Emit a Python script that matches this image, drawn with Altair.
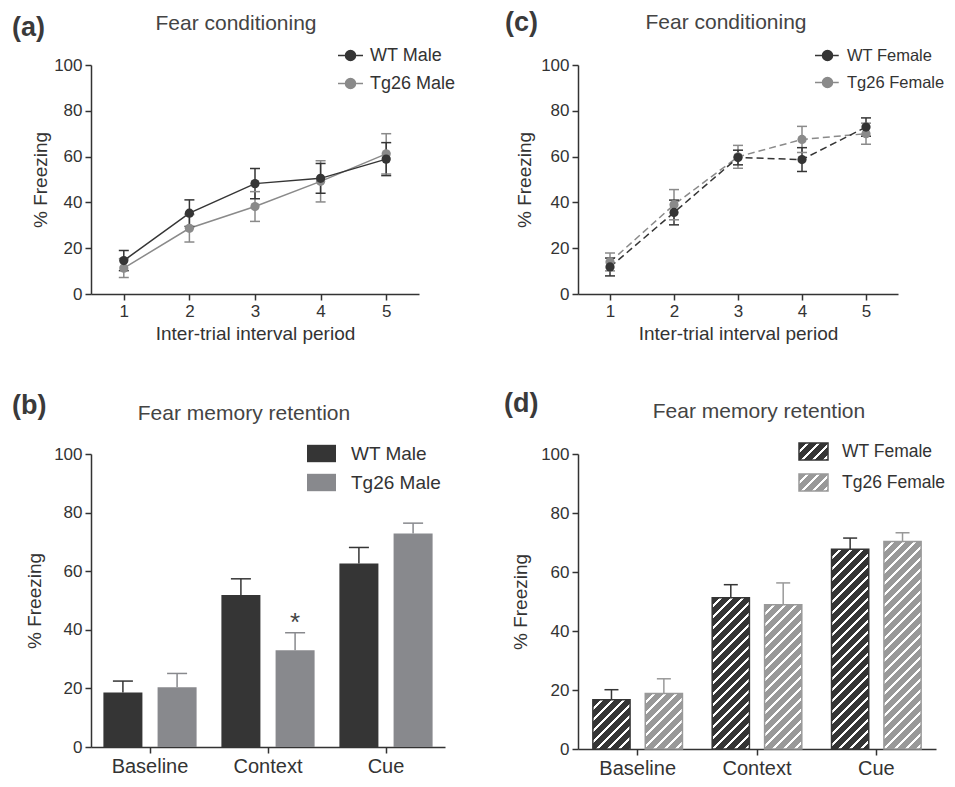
import altair as alt
import pandas as pd

FONT = "Liberation Sans"
TXT = "#333333"
TITLE_C = "#444444"
DARK = "#353535"
LINE_GRAY = "#8a8a8a"
BAR_GRAY = "#88898d"
HATCH_GRAY = "#999999"

# ---------------- data ----------------
periods = [1, 2, 3, 4, 5]
a_names = ["WT Male", "Tg26 Male"]
a_wt = [14.6, 35.3, 48.2, 50.5, 58.9]
a_wt_err = [4.4, 5.8, 6.6, 6.5, 7.2]
a_tg = [11.3, 28.7, 38.2, 49.2, 61.2]
a_tg_err = [4.1, 6.0, 6.5, 9.0, 8.8]

c_names = ["WT Female", "Tg26 Female"]
c_wt = [11.8, 35.6, 59.6, 58.7, 72.9]
c_wt_err = [3.9, 5.4, 3.2, 5.2, 4.0]
c_tg = [14.0, 39.0, 59.9, 67.5, 70.0]
c_tg_err = [3.9, 6.6, 5.0, 5.7, 4.6]

phases = ["Baseline", "Context", "Cue"]
b_names = ["WT Male", "Tg26 Male"]
b_wt = [18.6, 51.9, 62.6]
b_wt_err = [3.9, 5.5, 5.5]
b_tg = [20.4, 33.0, 72.9]
b_tg_err = [4.7, 6.0, 3.5]
b_tg_sig = ["", "*", ""]

d_names = ["WT Female", "Tg26 Female"]
d_wt = [16.7, 51.3, 67.7]
d_wt_err = [3.4, 4.4, 3.8]
d_tg = [18.8, 48.9, 70.3]
d_tg_err = [5.0, 7.4, 3.0]

y_ticks = [0, 20, 40, 60, 80, 100]

# ---------------- sizes ----------------
TOP_H = 229
A_W, C_W = 328, 320
B_W, B_H = 354, 293
D_W, D_H = 358, 295


def text_layer(s, x, y, size, weight="normal", color=TXT, align="left", baseline="alphabetic"):
    return alt.Chart(pd.DataFrame({"s": [s]})).mark_text(
        font=FONT, fontSize=size, fontWeight=weight, color=color, align=align, baseline=baseline
    ).encode(text="s:N", x=alt.value(x), y=alt.value(y))


def y_enc(field, title_pad):
    return alt.Y(field, type="quantitative", scale=alt.Scale(domain=[0, 100], nice=False),
                 axis=alt.Axis(values=y_ticks, title="% Freezing", titlePadding=title_pad))


# ---------------- line panels ----------------
def line_panel(names, wt, wt_err, tg, tg_err, dash, W, letter, letter_xy, title_xy,
               ypad, leg_xy, sym_path, leg_font):
    df = pd.DataFrame({
        "period": periods + periods,
        "series": [names[1]] * 5 + [names[0]] * 5,
        "value": tg + wt,
        "err": tg_err + wt_err,
    })
    df["lo"] = df["value"] - df["err"]
    df["hi"] = df["value"] + df["err"]
    sc = alt.Scale(domain=names, range=[DARK, LINE_GRAY])
    leg = alt.Legend(title=None, orient="none", legendX=leg_xy[0], legendY=leg_xy[1],
                     symbolType=sym_path, symbolSize=625, symbolStrokeWidth=1.5,
                     labelFont=FONT, labelFontSize=leg_font, labelColor=TXT, labelOffset=6,
                     rowPadding=5, padding=0)

    def x_enc(field):
        return alt.X(field, type="quantitative",
                     scale=alt.Scale(domain=[0.5, 5.5], nice=False, zero=False),
                     axis=alt.Axis(values=periods, format="d", title="Inter-trial interval period",
                                   titlePadding=5))

    base = alt.Chart(df)
    line_kw = {"strokeWidth": 1.5}
    if dash:
        line_kw["strokeDash"] = dash
    line = base.mark_line(**line_kw).encode(
        x=x_enc("period"), y=y_enc("value", ypad),
        stroke=alt.Stroke("series:N", scale=sc, legend=leg))
    rules = base.mark_rule(strokeWidth=1.5).encode(
        x=x_enc("period"), y=y_enc("lo", ypad), y2="hi:Q",
        stroke=alt.Stroke("series:N", scale=sc, legend=None))
    cap_lo = base.mark_tick(orient="horizontal", size=10, thickness=1.5, opacity=1).encode(
        x=x_enc("period"), y=y_enc("lo", ypad),
        fill=alt.Fill("series:N", scale=sc, legend=None))
    cap_hi = base.mark_tick(orient="horizontal", size=10, thickness=1.5, opacity=1).encode(
        x=x_enc("period"), y=y_enc("hi", ypad),
        fill=alt.Fill("series:N", scale=sc, legend=None))
    pts = base.mark_circle(size=85, opacity=1).encode(
        x=x_enc("period"), y=y_enc("value", ypad),
        fill=alt.Fill("series:N", scale=sc, legend=leg))
    lt = text_layer(letter, letter_xy[0], letter_xy[1], 27, weight="bold", color="#3a3a3a")
    tt = text_layer("Fear conditioning", title_xy[0], title_xy[1], 21, color=TITLE_C, align="center")
    return alt.layer(line, rules, cap_lo, cap_hi, pts, lt, tt).properties(width=W, height=TOP_H)


LINE_SYM = "M-1,0H1M0.4,0A0.4,0.4,0,1,1,-0.4,0A0.4,0.4,0,1,1,0.4,0Z"
DASH_SYM = "M-1,0H-0.45M0.45,0H0.9M0.4,0A0.4,0.4,0,1,1,-0.4,0A0.4,0.4,0,1,1,0.4,0Z"

pa = line_panel(a_names, a_wt, a_wt_err, a_tg, a_tg_err, None, A_W, "(a)", (-79, -29.5),
                (145, -35), 3, (246, -23), LINE_SYM, 18)
pc = line_panel(c_names, c_wt, c_wt_err, c_tg, c_tg_err, [7, 4], C_W, "(c)", (-73, -34),
                (148, -36), 6, (236, -23), DASH_SYM, 16.5)


# ---------------- bar panels ----------------
PI1, PO1 = 0.1, 0.05


def bar_df(names, wt, wt_err, tg, tg_err, sig=None):
    df = pd.DataFrame({
        "category": phases + phases,
        "series": [names[0]] * 3 + [names[1]] * 3,
        "value": wt + tg,
        "err": wt_err + tg_err,
    })
    df["hi"] = df["value"] + df["err"]
    df["sig"] = ["", "", ""] + (sig if sig else ["", "", ""])
    return df


def x_band():
    return alt.X("category:N", sort=phases,
                 scale=alt.Scale(domain=phases, paddingInner=PI1, paddingOuter=PO1),
                 axis=alt.Axis(title=None, labelAngle=0, labelFontSize=20, labelPadding=3))


def x_off(names, pi2, po2):
    return alt.XOffset("series:N", sort=names,
                       scale=alt.Scale(domain=names, paddingInner=pi2, paddingOuter=po2))


# (b) solid bars
dfb = bar_df(b_names, b_wt, b_wt_err, b_tg, b_tg_err, b_tg_sig)
scb = alt.Scale(domain=b_names, range=[DARK, BAR_GRAY])
leg_b = alt.Legend(title=None, orient="none", legendX=216, legendY=-15,
                   symbolType="M-1,-0.6H1V0.6H-1Z", symbolSize=841, symbolStrokeWidth=0,
                   labelFont=FONT, labelFontSize=19, labelColor=TXT, labelOffset=15,
                   rowPadding=4, padding=0)
bb = alt.Chart(dfb)
XO_B = (0.28, 0.12)
b_bars = bb.mark_bar().encode(
    x=x_band(), xOffset=x_off(b_names, *XO_B), y=y_enc("value", 9),
    color=alt.Color("series:N", scale=scb, legend=leg_b))
b_rules = bb.mark_rule(strokeWidth=1.5).encode(
    x=x_band(), xOffset=x_off(b_names, *XO_B), y=y_enc("value", 9), y2="hi:Q",
    color=alt.Color("series:N", scale=scb, legend=None))
b_caps = bb.mark_tick(orient="horizontal", size=20, thickness=1.5, opacity=1).encode(
    x=x_band(), xOffset=x_off(b_names, *XO_B), y=y_enc("hi", 9),
    color=alt.Color("series:N", scale=scb, legend=None))
b_sig = bb.mark_text(font=FONT, fontSize=26, color="#444444", baseline="alphabetic", dy=-2).encode(
    x=x_band(), xOffset=x_off(b_names, *XO_B), y=y_enc("hi", 9), text="sig:N")
pb = alt.layer(
    b_bars, b_rules, b_caps, b_sig,
    text_layer("(b)", -79, -40, 27, weight="bold", color="#3a3a3a"),
    text_layer("Fear memory retention", 153, -34, 21, color=TITLE_C, align="center"),
).properties(width=B_W, height=B_H)


# (d) hatched bars
def hatch(color, w, h, period=11.0, frac=0.3):
    total = w + h
    stops = [{"offset": 0, "color": color}]
    cur = color
    p = 0.0
    done = False
    while not done:
        for e, newc in ((p + period * (1 - frac), "#ffffff"), (p + period, color)):
            if e >= total:
                done = True
                break
            stops.append({"offset": e / total, "color": cur})
            stops.append({"offset": e / total, "color": newc})
            cur = newc
        p += period
    stops.append({"offset": 1, "color": cur})
    k = total / (w * w + h * h)
    return {"gradient": "linear", "x1": 0, "y1": 0, "x2": w * k, "y2": h * k, "stops": stops}


XO_D = (0.29, 0.17)
step1 = D_W / (3 - PI1 + 2 * PO1)
bw1 = step1 * (1 - PI1)
step2 = bw1 / (2 - XO_D[0] + 2 * XO_D[1])
d_bar_w = step2 * (1 - XO_D[0])

dfd = bar_df(d_names, d_wt, d_wt_err, d_tg, d_tg_err)
scd = alt.Scale(domain=d_names, range=[DARK, HATCH_GRAY])
bd = alt.Chart(dfd)
d_layers = []
for name, vals, col in ((d_names[0], d_wt, DARK), (d_names[1], d_tg, HATCH_GRAY)):
    for cat, v in zip(phases, vals):
        d_layers.append(
            bd.transform_filter((alt.datum.category == cat) & (alt.datum.series == name))
            .mark_bar(fill=hatch(col, d_bar_w, v * D_H / 100.0), stroke=col, strokeWidth=1.5)
            .encode(x=x_band(), xOffset=x_off(d_names, *XO_D), y=y_enc("value", 10))
        )
d_rules = bd.mark_rule(strokeWidth=1.5).encode(
    x=x_band(), xOffset=x_off(d_names, *XO_D), y=y_enc("hi", 10), y2="value:Q",
    color=alt.Color("series:N", scale=scd, legend=None))
d_caps = bd.mark_tick(orient="horizontal", size=14, thickness=1.5, opacity=1).encode(
    x=x_band(), xOffset=x_off(d_names, *XO_D), y=y_enc("hi", 10),
    color=alt.Color("series:N", scale=scd, legend=None))

# legend for the hatched panel
d_leg = []
for i, (name, col) in enumerate(((d_names[0], DARK), (d_names[1], HATCH_GRAY))):
    y0 = -11 + 31 * i
    src = alt.Chart(pd.DataFrame({"series": [name]}))
    d_leg.append(src.mark_rect(fill=hatch(col, 29, 17, period=11.0), stroke=col, strokeWidth=1.5)
                 .encode(x=alt.value(221), x2=alt.value(250), y=alt.value(y0), y2=alt.value(y0 + 17)))
    d_leg.append(src.mark_text(font=FONT, fontSize=17.5, color=TXT, align="left", baseline="middle")
                 .encode(text="series:N", x=alt.value(264), y=alt.value(y0 + 8.5)))

pd_ = alt.layer(
    *d_layers, d_rules, d_caps, *d_leg,
    text_layer("(d)", -74, -42, 27, weight="bold", color="#3a3a3a"),
    text_layer("Fear memory retention", 181, -36, 21, color=TITLE_C, align="center"),
).properties(width=D_W, height=D_H)


chart = alt.concat(
    pa, pc, pb, pd_, columns=2, spacing={"row": 160, "column": 133}, bounds="flush"
).resolve_scale(
    color="independent", fill="independent", stroke="independent", xOffset="independent"
).resolve_legend(
    color="independent", fill="independent", stroke="independent"
).properties(
    padding={"left": 4, "top": 1, "right": 0, "bottom": 0}
).configure(font=FONT).configure_view(stroke=None).configure_axis(
    domainColor="#333333", domainWidth=1.5, tickColor="#333333", tickWidth=1.5, tickSize=6,
    labelFont=FONT, labelFontSize=17, labelColor=TXT, labelPadding=3,
    titleFont=FONT, titleFontSize=19, titleFontWeight="normal", titleColor=TXT, grid=False,
)

chart.save("out.html", embed_options={"renderer": "svg", "actions": False})
